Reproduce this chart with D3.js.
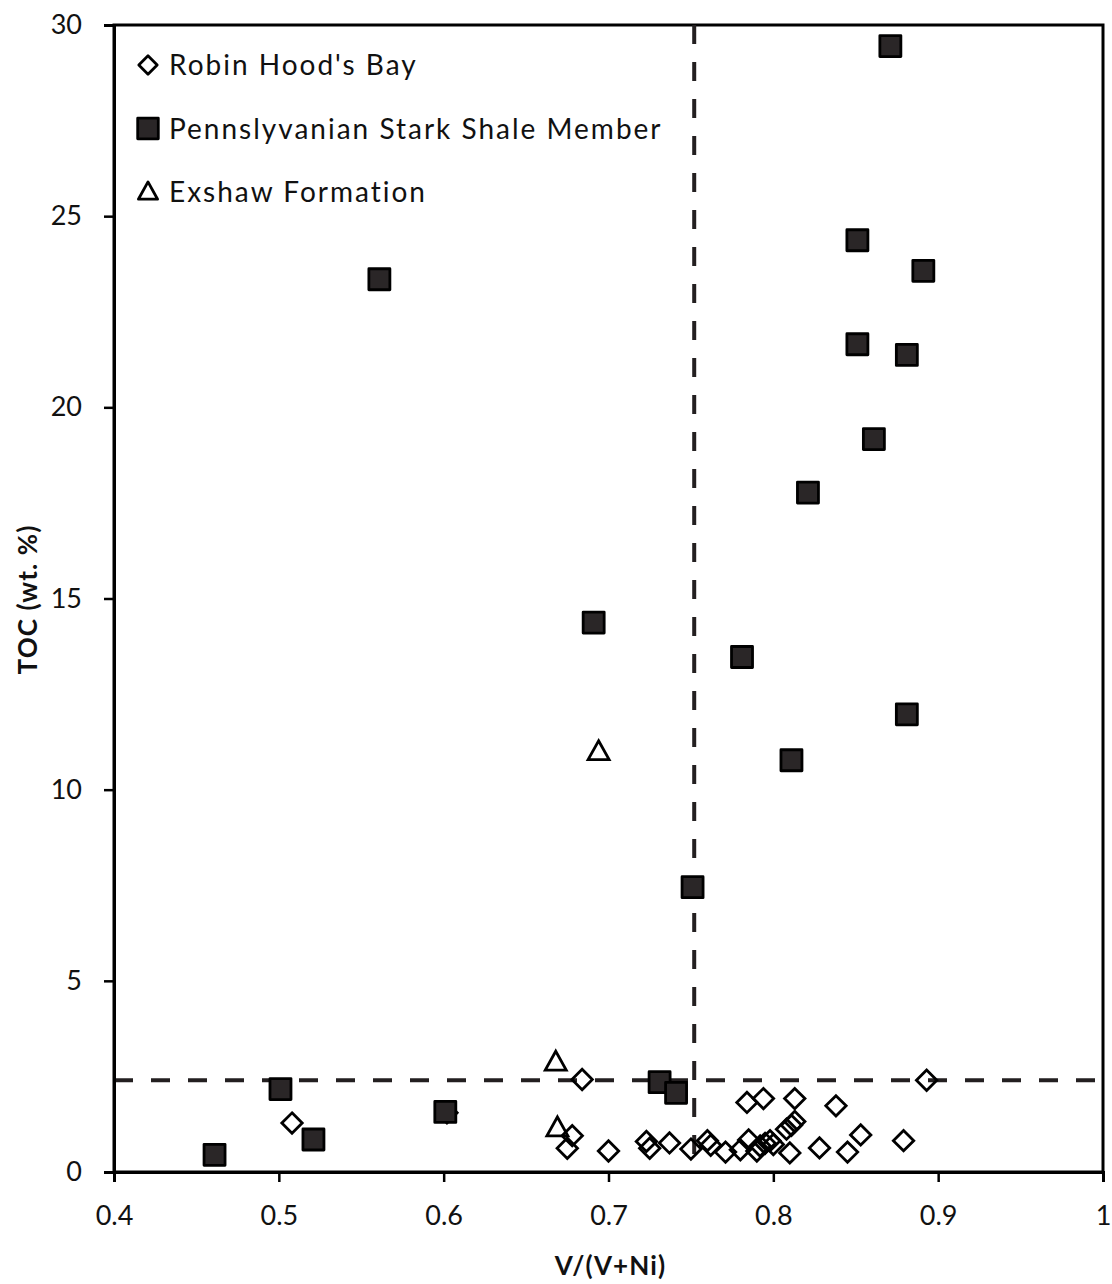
<!DOCTYPE html>
<meta charset="utf-8">
<style>
body { margin: 0; background: #fff; }
.tick text { font-family: Lato, "Liberation Sans", sans-serif; font-size: 27px; fill: #111; }
.axis-title { font-family: Lato, "Liberation Sans", sans-serif; font-size: 26px; font-weight: bold; letter-spacing: 1.1px; fill: #111; }
.legend text { font-family: Lato, "Liberation Sans", sans-serif; font-size: 28px; letter-spacing: 2px; fill: #111; }
</style>
<body>
<script src="https://d3js.org/d3.v7.min.js"></script>
<script>
// Robin Hood's Bay (open diamonds)
var robinX = [0.508, 0.602, 0.675, 0.678, 0.684, 0.700, 0.723, 0.725, 0.737, 0.750, 0.760, 0.762,
              0.771, 0.780, 0.784, 0.785, 0.790, 0.792, 0.794, 0.795, 0.798, 0.800, 0.808, 0.810,
              0.811, 0.813, 0.813, 0.828, 0.838, 0.845, 0.853, 0.879, 0.893];
var robinY = [1.28, 1.55, 0.62, 0.95, 2.42, 0.55, 0.80, 0.62, 0.76, 0.60, 0.82, 0.70,
              0.52, 0.58, 1.82, 0.84, 0.55, 0.68, 1.92, 0.75, 0.82, 0.72, 1.12, 0.50,
              1.22, 1.32, 1.92, 0.63, 1.73, 0.52, 0.97, 0.82, 2.40];
// Pennslyvanian Stark Shale Member (filled squares)
var starkX = [0.461, 0.501, 0.521, 0.561, 0.601, 0.691, 0.731, 0.741, 0.751, 0.781,
              0.811, 0.821, 0.851, 0.851, 0.861, 0.871, 0.881, 0.881, 0.891];
var starkY = [0.45, 2.17, 0.85, 23.35, 1.57, 14.37, 2.35, 2.07, 7.45, 13.47,
              10.77, 17.77, 24.37, 21.65, 19.17, 29.45, 21.37, 11.97, 23.57];
// Exshaw Formation (open triangles)
var exshawX = [0.694, 0.668, 0.669];
var exshawY = [10.99, 2.87, 1.15];

var seriesNames = ["Robin Hood's Bay", "Pennslyvanian Stark Shale Member", "Exshaw Formation"];
var xTicks = [0.4, 0.5, 0.6, 0.7, 0.8, 0.9, 1];
var yTicks = [0, 5, 10, 15, 20, 25, 30];
var cutX = 0.752, cutY = 2.4;

var margin = {top: 25, right: 9, bottom: 112, left: 114},
    width = 1112 - margin.left - margin.right,
    height = 1284 - margin.top - margin.bottom;

var x = d3.scaleLinear().domain([0.4, 1]).range([0, width]);
var y = d3.scaleLinear().domain([0, 30]).range([height, 0]);

var svg = d3.select("body").append("svg")
    .attr("width", 1112)
    .attr("height", 1284)
  .append("g")
    .attr("transform", "translate(" + margin.left + "," + margin.top + ")");

// marker shapes
function diamond(s) { return "M0," + (-s) + "L" + s + ",0L0," + s + "L" + (-s) + ",0Z"; }
function square(s) { return "M" + (-s) + "," + (-s) + "H" + s + "V" + s + "H" + (-s) + "Z"; }
function triangle(s) { return "M0," + (-s * 1.05) + "L" + s + "," + (s * 0.75) + "L" + (-s) + "," + (s * 0.75) + "Z"; }

// frame
svg.append("rect")
    .attr("width", width).attr("height", height)
    .attr("fill", "none").attr("stroke", "#000").attr("stroke-width", 3);

// dashed threshold lines
svg.append("line")
    .attr("x1", x(cutX)).attr("x2", x(cutX))
    .attr("y1", 0).attr("y2", height)
    .attr("stroke", "#231f20").attr("stroke-width", 4)
    .attr("stroke-dasharray", "19,18");
svg.append("line")
    .attr("x1", 0).attr("x2", width)
    .attr("y1", y(cutY)).attr("y2", y(cutY))
    .attr("stroke", "#231f20").attr("stroke-width", 4)
    .attr("stroke-dasharray", "19,18");

// axes
var xAxis = svg.append("g")
    .attr("transform", "translate(0," + height + ")")
    .call(d3.axisBottom(x).tickValues(xTicks).tickSize(10).tickPadding(24)
      .tickFormat(function(d) { return d === 1 ? "1" : d3.format(".1f")(d); }));
var yAxis = svg.append("g")
    .call(d3.axisLeft(y).tickValues(yTicks).tickSize(10).tickPadding(22));
[xAxis, yAxis].forEach(function(a) {
  a.select(".domain").attr("stroke", "#000").attr("stroke-width", 3);
  a.selectAll(".tick line").attr("stroke", "#000").attr("stroke-width", 2.5);
});

svg.append("text")
    .attr("class", "axis-title")
    .attr("x", width / 2 + 2)
    .attr("y", height + 103)
    .attr("text-anchor", "middle")
    .text("V/(V+Ni)");
svg.append("text")
    .attr("class", "axis-title")
    .attr("transform", "rotate(-90)")
    .attr("x", -(height / 2) - 1)
    .attr("y", -77)
    .attr("text-anchor", "middle")
    .text("TOC (wt. %)");

// points
var robin = robinX.map(function(v, i) { return [v, robinY[i]]; });
var stark = starkX.map(function(v, i) { return [v, starkY[i]]; });
var exshaw = exshawX.map(function(v, i) { return [v, exshawY[i]]; });

svg.append("g").selectAll("path")
    .data(robin).enter().append("path")
    .attr("transform", function(d) { return "translate(" + x(d[0]) + "," + y(d[1]) + ")"; })
    .attr("d", diamond(10.2))
    .attr("fill", "none").attr("stroke", "#000").attr("stroke-width", 2.8);

svg.append("g").selectAll("path")
    .data(stark).enter().append("path")
    .attr("transform", function(d) { return "translate(" + x(d[0]) + "," + y(d[1]) + ")"; })
    .attr("d", square(10.5))
    .attr("fill", "#2a2627").attr("stroke", "#000").attr("stroke-width", 2.8)
    .attr("stroke-linejoin", "round");

svg.append("g").selectAll("path")
    .data(exshaw).enter().append("path")
    .attr("transform", function(d) { return "translate(" + x(d[0]) + "," + y(d[1]) + ")"; })
    .attr("d", triangle(10.5))
    .attr("fill", "none").attr("stroke", "#000").attr("stroke-width", 2.8);

// legend
var legend = svg.append("g").attr("class", "legend");
var shapes = [
  {d: diamond(9.2), fill: "none"},
  {d: square(10.3), fill: "#2a2627"},
  {d: triangle(9.6), fill: "none"}
];
seriesNames.forEach(function(name, i) {
  var row = legend.append("g")
      .attr("transform", "translate(34," + (40 + i * 63.5) + ")");
  row.append("path")
      .attr("d", shapes[i].d)
      .attr("fill", shapes[i].fill)
      .attr("stroke", "#000").attr("stroke-width", 2.8)
      .attr("stroke-linejoin", "round");
  row.append("text")
      .attr("x", 21)
      .attr("y", 10)
      .text(name);
});
</script>
</body>
